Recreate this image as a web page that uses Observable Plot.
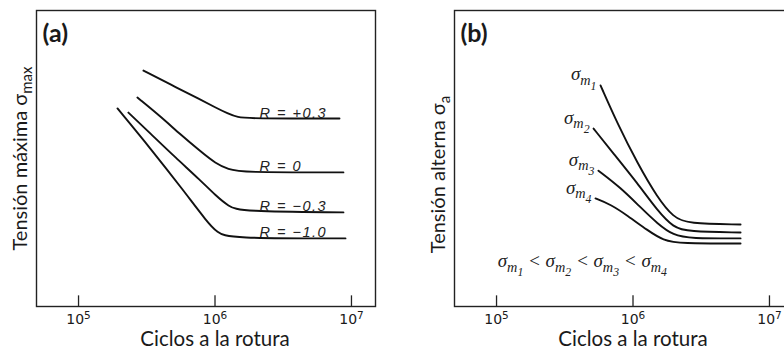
<!DOCTYPE html>
<html><head><meta charset="utf-8">
<script src="https://cdn.jsdelivr.net/npm/d3@7"></script>
<script src="https://cdn.jsdelivr.net/npm/@observablehq/plot@0.6"></script>
<style>
html,body{margin:0;padding:0;overflow:hidden;background:#fff;}
#wrap{position:relative;width:784px;height:352px;overflow:hidden;background:#fff;}
#wrap svg{position:absolute;top:0;}
g[font-family="Liberation Sans"] text{letter-spacing:1.5px;}
</style></head><body><div id="wrap"></div>
<script>
// ---------- data ----------
const decadeTicks = [1e5, 1e6, 1e7];
const panelTitles = ["(a)", "(b)"];
const xLabel = "Ciclos a la rotura";
const yLabelA = "Tensión máxima σ_{max}";
const yLabelB = "Tensión alterna σ_{a}";

// panel (a): maximum stress vs cycles to failure, one curve per stress ratio R
const seriesA = ["R = +0.3", "R = 0", "R = −0.3", "R = −1.0"];
const cyclesA = [
  [2.99e5, 4.72e5, 7.83e5, 1.01e6, 1.24e6, 1.46e6, 1.82e6, 8.17e6],
  [2.70e5, 3.99e5, 5.58e5, 7.83e5, 1.01e6, 1.26e6, 1.54e6, 8.73e6],
  [2.32e5, 3.37e5, 5.14e5, 7.83e5, 1.01e6, 1.26e6, 1.54e6, 8.73e6],
  [1.93e5, 3.37e5, 5.87e5, 8.81e5, 1.04e6, 1.26e6, 9.04e6]
];
const stressA = [
  [79.7, 75.0, 69.9, 67.2, 65.2, 63.9, 63.5, 63.5],
  [70.6, 64.2, 58.1, 52.4, 48.3, 46.3, 45.3, 45.3],
  [65.5, 58.4, 50.3, 42.6, 37.5, 33.8, 32.1, 31.8],
  [66.9, 53.4, 39.2, 28.4, 25.0, 23.0, 23.0]
];
const labelCyclesA = 2.12e6;   // where the R labels start

// panel (b): alternating stress vs cycles, one curve per mean stress
const seriesB = ["σ_{m_{1}}", "σ_{m_{2}}", "σ_{m_{3}}", "σ_{m_{4}}"];
const cyclesB = [
  [5.78e5, 7.69e5, 1.08e6, 1.51e6, 1.98e6, 2.51e6, 6.14e6],
  [5.14e5, 7.19e5, 1.08e6, 1.51e6, 1.98e6, 2.51e6, 6.14e6],
  [5.58e5, 8.09e5, 1.14e6, 1.51e6, 1.98e6, 2.64e6, 6.14e6],
  [5.31e5, 6.84e5, 9.12e5, 1.28e6, 1.67e6, 2.23e6, 6.14e6]
];
const stressB = [
  [74.7, 61.8, 48.3, 36.8, 30.1, 28.0, 27.7],
  [60.1, 51.7, 41.6, 32.4, 26.7, 25.3, 25.0],
  [45.9, 40.2, 33.4, 28.0, 24.0, 23.0, 23.0],
  [36.5, 34.5, 30.7, 25.7, 22.3, 21.3, 21.3]
];
const formulaB = "σ_{m_{1}} < σ_{m_{2}} < σ_{m_{3}} < σ_{m_{4}}";
const formulaAt = {n: 1.02e5, s: 13.4};

// ---------- helpers ----------
function rows(series, cycles, stress) {
  return series.flatMap((name, i) => cycles[i].map((n, j) => ({series: name, n, s: stress[i][j]})));
}
function parseRich(s) {
  const runs = []; const stack = [0]; let cur = ""; let lvl = 0;
  for (let i = 0; i < s.length; i++) {
    const c = s[i];
    if ((c === "_" || c === "^") && s[i + 1] === "{") {
      if (cur) runs.push({t: cur, l: lvl}); cur = "";
      lvl = c === "_" ? (lvl >= 0 ? lvl + 1 : 0) : -1;
      stack.push(lvl); i++;
    } else if (c === "}" && stack.length > 1) {
      if (cur) runs.push({t: cur, l: lvl}); cur = "";
      stack.pop(); lvl = stack[stack.length - 1];
    } else cur += c;
  }
  if (cur) runs.push({t: cur, l: lvl});
  return runs;
}
const SHIFT = {"-1": -0.38, "0": 0, "1": 0.25, "2": 0.5};
const SIZE = {"-1": 0.75, "0": 1, "1": 0.75, "2": 0.62};
function richText(svg) {
  d3.select(svg).selectAll("text").each(function () {
    const s = this.textContent;
    if (!/[_^]\{/.test(s)) return;
    const base = parseFloat(getComputedStyle(this).fontSize) || 12;
    const runs = parseRich(s);
    this.textContent = "";
    this.style.whiteSpace = "pre";
    let prev = 0;
    for (const r of runs) {
      const sh = SHIFT[r.l], sz = SIZE[r.l];
      const t = document.createElementNS("http://www.w3.org/2000/svg", "tspan");
      t.setAttribute("font-size", (base * sz).toFixed(2));
      const dy = (sh - prev) * base;
      if (dy) t.setAttribute("dy", dy.toFixed(2));
      t.textContent = r.t;
      this.appendChild(t);
      prev = sh;
    }
  });
}

function panel(opts) {
  return Plot.plot({
    width: 392, height: 352,
    marginLeft: 36, marginRight: 17, marginTop: 10, marginBottom: 46,
    style: {fontFamily: "Lato, 'Open Sans', sans-serif", background: "transparent", color: "#1a1a1a"},
    x: {type: "log", domain: [4.92e4, 1.5e7]},
    y: {domain: [0, 100], axis: null},
    marks: [
      Plot.frame({stroke: "#222", strokeWidth: 1.4}),
      Plot.ruleX(decadeTicks, {x: d => d, y1: 0, y2: 3.6, stroke: "#222", strokeWidth: 1.3}),
      Plot.axisX(decadeTicks, {tickSize: 0, tickPadding: 8, fontSize: 14, fontFamily: "DejaVu Sans",
        tickFormat: d => `10^{${Math.round(Math.log10(d))}}`, label: null}),
      Plot.text([xLabel], {text: d => d, x: () => 1e6, frameAnchor: "bottom", dy: 39, fontSize: 20.5}),
      Plot.text([opts.yLabel], {text: d => d, frameAnchor: "left", textAnchor: "middle", lineAnchor: "middle",
        rotate: -90, dx: -16, dy: opts.yLabelShift, fontSize: 20}),
      Plot.text([opts.title], {text: d => d, frameAnchor: "top-left", textAnchor: "start", lineAnchor: "top",
        dx: 6, dy: 14, fontSize: 25, fontWeight: "bold"}),
      Plot.line(opts.data, {x: "n", y: "s", z: "series", stroke: "#111", strokeWidth: 1.9, curve: "basis"}),
      ...opts.extra
    ]
  });
}

const wrap = document.getElementById("wrap");

const svgA = panel({
  title: panelTitles[0], yLabel: yLabelA, yLabelShift: 0, data: rows(seriesA, cyclesA, stressA),
  extra: [
    Plot.text(seriesA, {text: d => d, x: () => labelCyclesA, y: (d, i) => stressA[i][stressA[i].length - 1],
      textAnchor: "start", lineAnchor: "bottom", dy: -1, fontSize: 14.5, fontStyle: "italic",
      fontFamily: "Liberation Sans", fill: "#222"})
  ]
});
svgA.style.left = "0px";
wrap.appendChild(svgA);

const svgB = panel({
  title: panelTitles[1], yLabel: yLabelB, yLabelShift: 16, data: rows(seriesB, cyclesB, stressB),
  extra: [
    Plot.text(seriesB, {text: d => d, x: (d, i) => cyclesB[i][0], y: (d, i) => stressB[i][0],
      textAnchor: "end", lineAnchor: "middle", dx: -4, dy: -11, fontSize: 19, fontStyle: "italic",
      fontFamily: "Liberation Serif", fill: "#222"}),
    Plot.text([formulaB], {text: d => d, x: () => formulaAt.n, y: () => formulaAt.s,
      textAnchor: "start", lineAnchor: "bottom", fontSize: 19, fontStyle: "italic",
      fontFamily: "Liberation Serif", fill: "#222"})
  ]
});
svgB.style.left = "418px";
wrap.appendChild(svgB);

richText(svgA);
richText(svgB);
</script></body></html>
